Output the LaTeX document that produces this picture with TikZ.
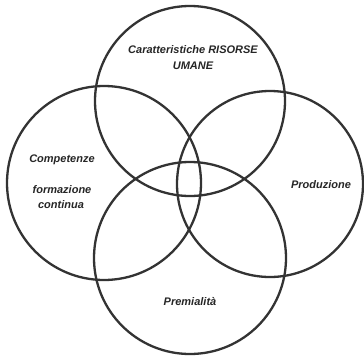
\documentclass[tikz,border=0pt]{standalone}
\usepackage{fontspec}
\setmainfont{Liberation Sans}
\begin{document}
\begin{tikzpicture}[x=1pt,y=-1pt,
  ring/.style={draw=black!80,line width=2.3pt},
  lbl/.style={font=\fontsize{11}{13}\selectfont\bfseries\itshape,text=black!85,align=center,inner sep=0pt}]
\useasboundingbox[fill=white] (0,0) rectangle (364,356);
\node[ring,circle,minimum size=190pt,inner sep=0pt] (top) at (190,101) {};
\node[ring,circle,minimum size=194pt,inner sep=0pt] (left) at (104,183) {};
\node[ring,circle,minimum size=186pt,inner sep=0pt] (right) at (270,184) {};
\node[ring,circle,minimum size=192pt,inner sep=0pt] (bottom) at (190,258) {};
\node[lbl] (t1) at (193,50) {Caratteristiche RISORSE};
\node[lbl] (t2) at (193,66) {UMANE};
\node[lbl] (c1) at (62,160) {Competenze};
\node[lbl] (c2) at (62,190) {formazione};
\node[lbl] (c3) at (61,205) {continua};
\node[lbl] (p1) at (321,185) {Produzione};
\node[lbl] (p2) at (190,302) {Premialità};
\end{tikzpicture}
\end{document}
